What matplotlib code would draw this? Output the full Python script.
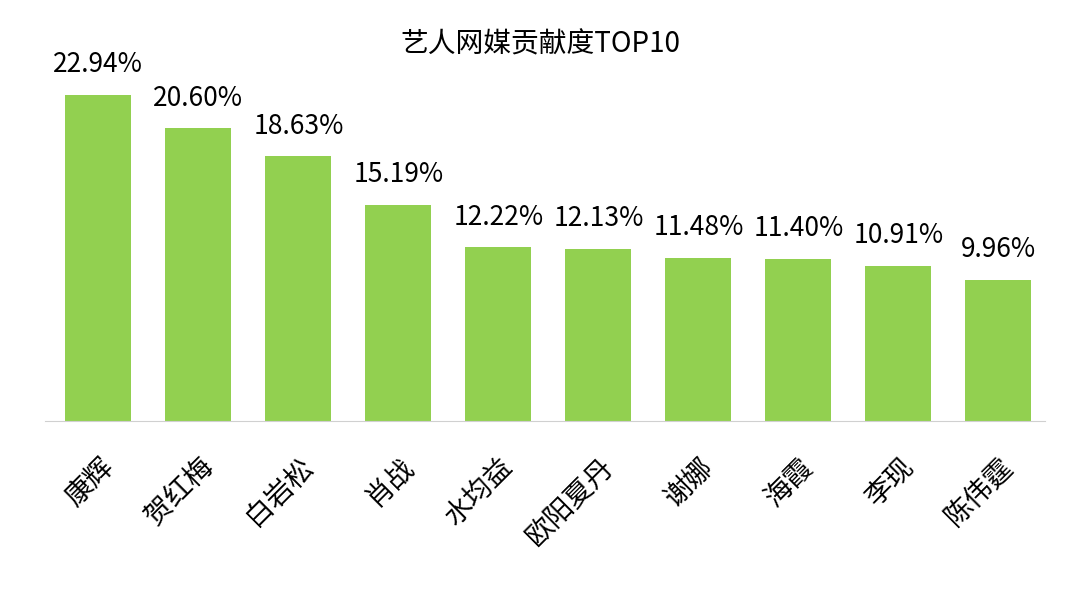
import matplotlib.pyplot as plt

plt.rcParams['font.family'] = ['Noto Sans CJK SC', 'DejaVu Sans']

names = ['康辉', '贺红梅', '白岩松', '肖战', '水均益', '欧阳夏丹', '谢娜', '海霞', '李现', '陈伟霆']
values = [22.94, 20.60, 18.63, 15.19, 12.22, 12.13, 11.48, 11.40, 10.91, 9.96]

fig = plt.figure(figsize=(10.8, 5.94), dpi=100)
ax = fig.add_axes([0.042, 0.291, 0.926, 0.608])
x = range(len(names))
bars = ax.bar(x, values, width=0.66, color='#92D050')
for b, v in zip(bars, values):
    ax.annotate(f'{v:.2f}%', (b.get_x() + b.get_width() / 2, v), xytext=(0, 12),
                textcoords='offset points', ha='center', va='bottom', fontsize=19)

ax.set_xlim(-0.53, 9.47)
ax.set_ylim(0, 25.4)
ax.set_xticks(list(x))
ax.set_xticklabels(names, rotation=45, ha='right', rotation_mode='anchor', fontsize=20)
ax.tick_params(axis='x', length=0, pad=22)
ax.set_yticks([])
for s in ['top', 'right', 'left']:
    ax.spines[s].set_visible(False)
ax.spines['bottom'].set_color('#d0d0d0')
fig.text(0.5, 0.925, '艺人网媒贡献度TOP10', ha='center', va='center', fontsize=20)

fig.savefig('out.png', dpi=100)
